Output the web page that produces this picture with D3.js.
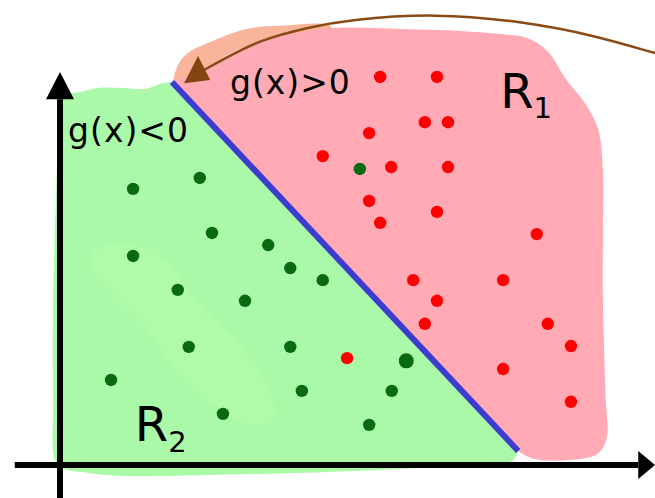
<!DOCTYPE html>
<html>
<head>
<meta charset="utf-8">
<script src="https://cdn.jsdelivr.net/npm/d3@7"></script>
<style>
  html, body { margin: 0; padding: 0; background: #fff; }
  svg { display: block; }
</style>
</head>
<body>
<script>
// Two classes separated by a linear decision boundary g(x)=0.
// Coordinates are in abstract feature units (origin = axes crossing).

const redPoints = [
  [5.52, 9.95], [6.50, 9.95], [6.29, 8.79], [6.69, 8.79], [5.33, 8.51],
  [4.53, 7.92], [5.71, 7.64], [6.69, 7.64], [5.33, 6.77], [6.50, 6.49],
  [5.52, 6.21], [8.22, 5.92], [6.09, 4.74], [7.64, 4.74], [6.50, 4.21],
  [6.29, 3.62], [8.41, 3.62], [8.81, 3.05], [4.95, 2.74], [7.64, 2.46],
  [8.81, 1.62]
];

const greenPoints = [
  [5.17, 7.59], [1.26, 7.08], [2.41, 7.36], [2.62, 5.95], [3.59, 5.64],
  [1.26, 5.36], [3.97, 5.05], [4.53, 4.74], [2.03, 4.49], [3.19, 4.21],
  [2.22, 3.03], [3.97, 3.03], [0.88, 2.18], [4.17, 1.90], [5.72, 1.90],
  [2.81, 1.31], [5.33, 1.03]
];
const bigGreen = [[5.97, 2.67]];

// decision boundary g(x) = 0
const boundary = [[1.93, 9.82], [7.90, 0.36]];

// hand-drawn regions R1 (pink) and R2 (green); each outline starts and ends on the boundary
const regionR1 = [
  [1.93, 9.82], [2.41, 10.10], [2.84, 10.45], [3.45, 10.85], [4.14, 11.10],
  [4.83, 11.21], [5.86, 11.18], [6.90, 11.13], [7.59, 11.05], [8.05, 10.95],
  [8.40, 10.62], [8.72, 9.90], [9.05, 9.28], [9.28, 8.60], [9.36, 7.50],
  [9.36, 6.00], [9.36, 4.23], [9.41, 1.67], [9.43, 0.72], [9.28, 0.30],
  [9.00, 0.16], [8.28, 0.13], [8.07, 0.21], [7.90, 0.36]
];
const regionR2 = [
  [1.93, 9.82], [1.72, 9.77], [1.47, 9.64], [1.03, 9.67], [0.69, 9.67],
  [0.34, 9.56], [0.05, 9.49], [0.00, 9.10], [-0.07, 6.79], [-0.12, 4.23],
  [-0.12, 1.67], [-0.09, 0.13], [0.03, -0.08], [0.52, -0.21], [1.09, -0.28],
  [2.41, -0.26], [3.97, -0.21], [5.86, -0.10], [7.07, 0.00], [7.79, 0.10],
  [7.90, 0.36]
];
const lightPatch = [
  [0.60, 5.50], [1.40, 5.60], [1.90, 5.10], [2.41, 4.10], [3.10, 3.10],
  [3.55, 2.10], [3.70, 1.20], [3.40, 1.00], [2.93, 1.25], [2.10, 2.25],
  [1.55, 3.40], [0.90, 4.40], [0.55, 5.05]
];
const salmonBlob = [
  [1.97, 9.77], [2.05, 10.30], [2.24, 10.60], [2.55, 10.82], [2.93, 11.05],
  [3.28, 11.20], [3.79, 11.26], [4.66, 11.26], [4.66, 11.05], [3.45, 10.85],
  [2.76, 10.40], [2.33, 9.87]
];

// brown annotation arrow (from the right, pointing at the boundary)
const arrowPath = [
  [10.26, 10.56], [9.17, 11.03], [8.02, 11.36], [6.47, 11.59], [4.95, 11.41],
  [4.31, 11.23], [3.45, 10.90], [2.88, 10.46], [2.45, 10.10]
];
const arrowHead = [[2.14, 9.79], [2.38, 10.49], [2.59, 9.87]];

const width = 655, height = 498;

const x = d3.scaleLinear().domain([0, 10]).range([60, 640]);
const y = d3.scaleLinear().domain([0, 10]).range([465, 75]);

const svg = d3.select("body").append("svg")
  .attr("width", width).attr("height", height)
  .style("font-family", "'DejaVu Sans', Verdana, sans-serif");

const closedCurve = d3.line().x(d => x(d[0])).y(d => y(d[1])).curve(d3.curveCatmullRomClosed.alpha(0.5));
// curved free edge, straight closing edge along the boundary
const openCurve = d3.line().x(d => x(d[0])).y(d => y(d[1])).curve(d3.curveCatmullRom.alpha(0.5));
const region = pts => openCurve(pts) + "Z";
const poly = d3.line().x(d => x(d[0])).y(d => y(d[1])).curve(d3.curveLinearClosed);

// Regiones
svg.append("path").attr("d", closedCurve(salmonBlob)).attr("fill", "#f8b59c");
svg.append("path").attr("d", region(regionR2)).attr("fill", "#aaf9a9");
svg.append("path").attr("d", closedCurve(lightPatch)).attr("fill", "#b2fba9").attr("opacity", 0.6);
svg.append("path").attr("d", region(regionR1)).attr("fill", "#ffaab4");

// Frontera de decisión
svg.append("line")
  .attr("x1", x(boundary[0][0])).attr("y1", y(boundary[0][1]))
  .attr("x2", x(boundary[1][0])).attr("y2", y(boundary[1][1]))
  .attr("stroke", "#3c3ccf").attr("stroke-width", 6);

// Flecha marrón
svg.append("path")
  .attr("d", d3.line().x(d => x(d[0])).y(d => y(d[1])).curve(d3.curveBasis)(arrowPath))
  .attr("fill", "none").attr("stroke", "#8a4a16").attr("stroke-width", 2.5);
svg.append("path").attr("d", poly(arrowHead)).attr("fill", "#84440f");

// Ejes con flechas
const xMin = -0.78, xTip = 10.26, xBase = 9.97;
const yMin = -0.85, yTip = 10.08, yBase = 9.38;
svg.append("line")
  .attr("x1", x(xMin)).attr("x2", x(xBase)).attr("y1", y(0)).attr("y2", y(0))
  .attr("stroke", "#000").attr("stroke-width", 6);
svg.append("path")
  .attr("d", `M${x(xTip)},${y(0)}L${x(xBase)},${y(0) - 14}L${x(xBase)},${y(0) + 14}Z`)
  .attr("fill", "#000");
svg.append("line")
  .attr("x1", x(0)).attr("x2", x(0)).attr("y1", y(yMin)).attr("y2", y(yBase))
  .attr("stroke", "#000").attr("stroke-width", 6);
svg.append("path")
  .attr("d", `M${x(0)},${y(yTip)}L${x(0) - 14},${y(yBase)}L${x(0) + 14},${y(yBase)}Z`)
  .attr("fill", "#000");

// Puntos
svg.append("g").selectAll("circle").data(redPoints).join("circle")
  .attr("cx", d => x(d[0])).attr("cy", d => y(d[1])).attr("r", 6.2)
  .attr("fill", "#ff0000");
svg.append("g").selectAll("circle").data(greenPoints).join("circle")
  .attr("cx", d => x(d[0])).attr("cy", d => y(d[1])).attr("r", 6.2)
  .attr("fill", "#0a6a12");
svg.append("g").selectAll("circle").data(bigGreen).join("circle")
  .attr("cx", d => x(d[0])).attr("cy", d => y(d[1])).attr("r", 7.5)
  .attr("fill", "#0a6a12");

// Etiquetas
svg.append("text").attr("x", x(0.14)).attr("y", y(8.28))
  .attr("font-size", 33).attr("letter-spacing", 1).attr("fill", "#000").text("g(x)<0");
svg.append("text").attr("x", x(2.93)).attr("y", y(9.51))
  .attr("font-size", 33).attr("letter-spacing", 1).attr("fill", "#000").text("g(x)>0");

const r1 = svg.append("text").attr("x", x(7.59)).attr("y", y(9.15)).attr("font-size", 48).attr("fill", "#000");
r1.append("tspan").text("R");
r1.append("tspan").attr("font-size", 29).attr("dy", 10).text("1");

const r2 = svg.append("text").attr("x", x(1.29)).attr("y", y(0.62)).attr("font-size", 48).attr("fill", "#000");
r2.append("tspan").text("R");
r2.append("tspan").attr("font-size", 29).attr("dy", 11).text("2");
</script>
</body>
</html>
